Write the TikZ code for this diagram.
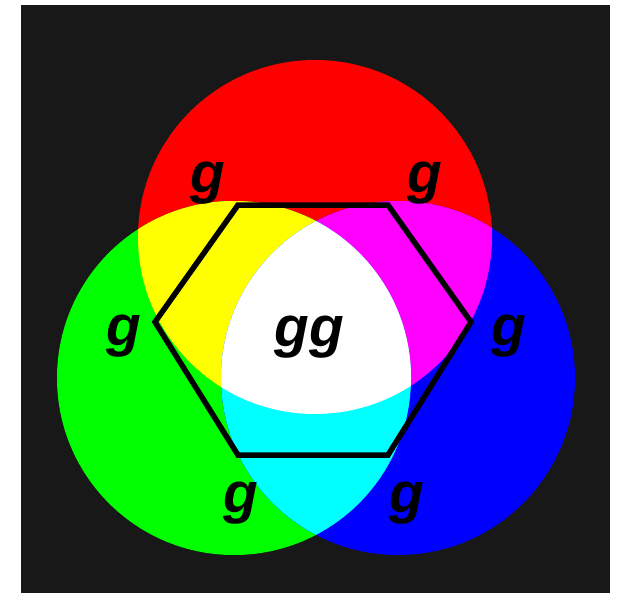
\documentclass[tikz,border=0pt]{standalone}
\usepackage{fontspec}
\newfontfamily\gfont{Liberation Sans}
\definecolor{bgdark}{HTML}{181818}
\definecolor{pyellow}{RGB}{255,255,0}
\definecolor{pmagenta}{RGB}{255,0,255}
\definecolor{pcyan}{RGB}{0,255,255}
\tikzset{
  glabel/.style={font=\gfont\fontsize{57}{57}\selectfont\bfseries\itshape, inner sep=0pt},
  hexline/.style={line width=5.5bp, line join=miter}
}
\begin{document}
\begin{tikzpicture}[x=1bp, y=-1bp]
  \useasboundingbox (0,0) rectangle (622,595);
  \fill[bgdark] (21,5) rectangle (610,593);

  % circle centres
  \def\rad{177}
  \coordinate (R) at (315,237);
  \coordinate (G) at (234,378);
  \coordinate (B) at (398,378);

  % primaries
  \fill[red]   (R) circle (\rad);
  \fill[green] (G) circle (\rad);
  \fill[blue]  (B) circle (\rad);

  % pairwise overlaps
  \begin{scope}
    \clip (R) circle (\rad);
    \fill[pyellow]  (G) circle (\rad);
    \fill[pmagenta] (B) circle (\rad);
  \end{scope}
  \begin{scope}
    \clip (G) circle (\rad);
    \fill[pcyan] (B) circle (\rad);
  \end{scope}

  % all three
  \begin{scope}
    \clip (R) circle (\rad);
    \clip (G) circle (\rad);
    \fill[white] (B) circle (\rad);
  \end{scope}

  % hexagon
  \coordinate (h1) at (238,205);
  \coordinate (h2) at (388,205);
  \coordinate (h3) at (471,322);
  \coordinate (h4) at (388,455);
  \coordinate (h5) at (238,455);
  \coordinate (h6) at (155,322);
  \draw[hexline] (h1) -- (h2) -- (h3) -- (h4) -- (h5) -- (h6) -- cycle;

  % labels
  \node[glabel] (gtl) at (208,183) {g};
  \node[glabel] (gtr) at (425,183) {g};
  \node[glabel] (gl)  at (124,336) {g};
  \node[glabel] (gr)  at (509,336) {g};
  \node[glabel] (gbl) at (241,503) {g};
  \node[glabel] (gbr) at (407,503) {g};
  \node[glabel] (gc)  at (309,337) {gg};
\end{tikzpicture}
\end{document}
